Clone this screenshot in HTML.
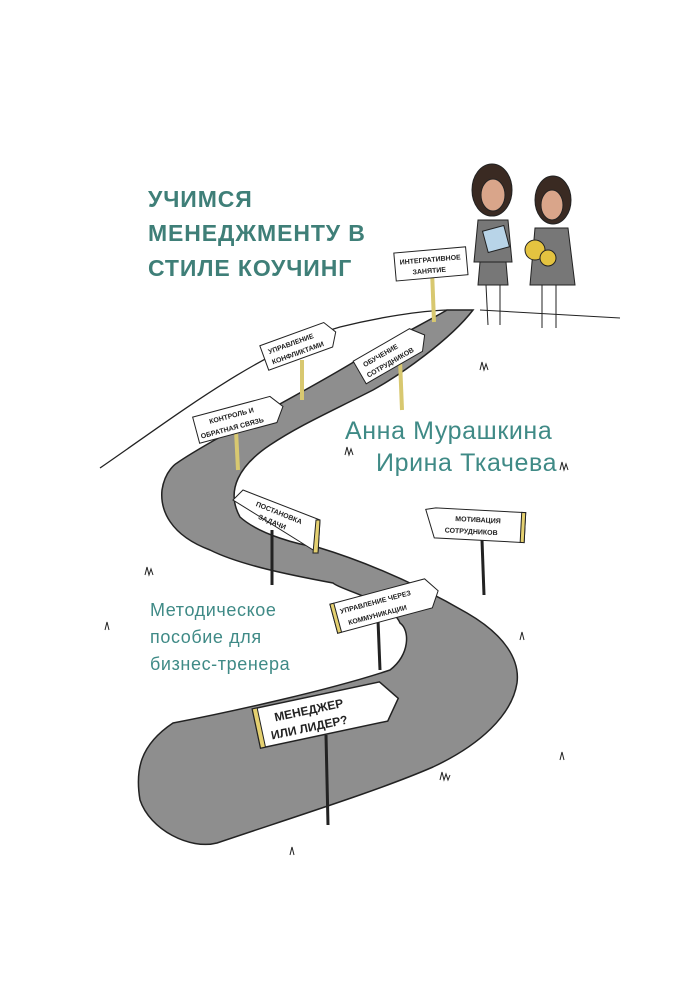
<!DOCTYPE html>
<html><head><meta charset="utf-8"><style>
html,body{margin:0;padding:0;background:#fff}
#c{position:relative;width:693px;height:1000px;overflow:hidden;background:#fff;font-family:"Liberation Sans","DejaVu Sans",sans-serif}
.t{position:absolute;left:148px;color:#3f7f78;font-weight:bold;font-size:23px;white-space:nowrap;letter-spacing:0.9px}
.a{position:absolute;color:#3f8a86;font-size:25px;white-space:nowrap;letter-spacing:0.6px}
.s{position:absolute;left:150px;color:#3f8a86;font-size:18px;white-space:nowrap;letter-spacing:0.6px}
</style></head><body><div id="c">
<svg width="693" height="1000" style="position:absolute;left:0;top:0">
<path d="M100,468 C170,420 260,350 340,327 C380,317 420,311 447,310" fill="none" stroke="#222" stroke-width="1.3"/>
<path d="M480,310 L620,318" fill="none" stroke="#222" stroke-width="1"/>
<path d="M447,310 L473,310 C450,340 400,375 373,390 C330,412 300,425 270,445 C240,465 225,490 240,517 C260,535 300,545 317,547 C360,560 410,580 467,613 C505,635 520,660 517,683 C512,715 480,745 433,767 C380,790 300,815 217,843 C190,850 150,830 140,800 C135,770 140,745 173,723 C230,712 330,690 390,670 C410,655 410,630 400,623 C390,600 340,590 333,583 C290,575 240,565 210,550 C170,535 160,510 162,490 C165,470 177,463 177,463 C210,440 300,395 357,360 C400,335 430,320 447,310 Z" fill="#8e8e8e" stroke="#222" stroke-width="1.5"/>
<g stroke="#222" stroke-width="1" fill="#fff" font-family="Liberation Sans,sans-serif" font-size="7" font-weight="bold">
<line x1="432" y1="270" x2="434" y2="322" stroke="#d8c870" stroke-width="4"/>
<g transform="rotate(-5 430 265)"><rect x="395" y="250" width="72" height="28"/><text x="400" y="262" stroke="none" fill="#222">ИНТЕГРАТИВНОЕ</text><text x="412" y="273" stroke="none" fill="#222">ЗАНЯТИЕ</text></g>
<line x1="302" y1="360" x2="302" y2="400" stroke="#d8c870" stroke-width="4"/>
<g transform="rotate(-20 300 345)"><path d="M262,332 L330,332 L338,345 L330,358 L262,358 Z"/><text x="268" y="343" stroke="none" fill="#222">УПРАВЛЕНИЕ</text><text x="268" y="354" stroke="none" fill="#222">КОНФЛИКТАМИ</text></g>
<line x1="400" y1="360" x2="402" y2="410" stroke="#d8c870" stroke-width="4"/>
<g transform="rotate(-30 390 355)"><path d="M355,342 L420,342 L430,355 L420,368 L355,368 Z"/><text x="362" y="353" stroke="none" fill="#222">ОБУЧЕНИЕ</text><text x="360" y="364" stroke="none" fill="#222">СОТРУДНИКОВ</text></g>
<line x1="236" y1="430" x2="238" y2="470" stroke="#d8c870" stroke-width="4"/>
<g transform="rotate(-15 240 420)"><path d="M195,405 L275,405 L285,418 L275,432 L195,432 Z"/><text x="210" y="416" stroke="none" fill="#222">КОНТРОЛЬ И</text><text x="198" y="428" stroke="none" fill="#222">ОБРАТНАЯ СВЯЗЬ</text></g>
<line x1="272" y1="530" x2="272" y2="585" stroke="#222" stroke-width="3"/>
<path d="M233,500 L243,490 L320,520 L318,553 Z" fill="#fff"/><path d="M316,520 L320,520 L318,553 L313,553 Z" fill="#e4d070"/>
<text x="253" y="512" stroke="none" fill="#222" transform="rotate(22 270 515)">ПОСТАНОВКА</text><text x="260" y="523" stroke="none" fill="#222" transform="rotate(22 270 515)">ЗАДАЧИ</text>
<line x1="482" y1="540" x2="484" y2="595" stroke="#222" stroke-width="3"/>
<g transform="rotate(3 475 525)"><path d="M425,512 L435,510 L525,510 L525,540 L435,540 Z"/><rect x="521" y="510" width="4" height="30" fill="#e4d070"/><text x="455" y="522" stroke="none" fill="#222">МОТИВАЦИЯ</text><text x="445" y="534" stroke="none" fill="#222">СОТРУДНИКОВ</text></g>
<line x1="378" y1="620" x2="380" y2="670" stroke="#222" stroke-width="3"/>
<g transform="rotate(-15 385 605)"><path d="M332,590 L430,590 L440,605 L430,620 L332,620 Z"/><rect x="332" y="590" width="4" height="30" fill="#e4d070"/><text x="340" y="602" stroke="none" fill="#222">УПРАВЛЕНИЕ ЧЕРЕЗ</text><text x="345" y="615" stroke="none" fill="#222">КОММУНИКАЦИИ</text></g>
<line x1="326" y1="735" x2="328" y2="825" stroke="#222" stroke-width="3"/>
<g transform="rotate(-12 320 715)"><path d="M255,695 L385,695 L400,715 L385,735 L255,735 Z" stroke-width="1.5"/><rect x="255" y="695" width="5" height="40" fill="#e4d070"/><text x="275" y="712" stroke="none" fill="#222" font-size="12">МЕНЕДЖЕР</text><text x="268" y="729" stroke="none" fill="#222" font-size="12">ИЛИ ЛИДЕР?</text></g>
</g>
<g stroke="#222" stroke-width="1" fill="#fff">
<ellipse cx="492" cy="190" rx="20" ry="26" fill="#3a2a22"/><ellipse cx="493" cy="195" rx="12" ry="16" fill="#d9a58a"/>
<path d="M478,220 L508,220 L512,262 L474,262 Z" fill="#777"/>
<path d="M480,262 L506,262 L508,285 L478,285 Z" fill="#777"/>
<line x1="486" y1="285" x2="488" y2="325"/><line x1="500" y1="285" x2="500" y2="325"/>
<rect x="485" y="228" width="22" height="22" fill="#b8d4e8" transform="rotate(-15 496 239)"/>
<ellipse cx="553" cy="200" rx="18" ry="24" fill="#3a2a22"/><ellipse cx="552" cy="205" rx="11" ry="15" fill="#d9a58a"/>
<path d="M535,228 L568,228 L575,285 L530,285 Z" fill="#777"/>
<line x1="542" y1="285" x2="542" y2="328"/><line x1="556" y1="285" x2="556" y2="328"/>
<circle cx="535" cy="250" r="10" fill="#e4c340"/><circle cx="548" cy="258" r="8" fill="#e4c340"/>
</g>
<g stroke="#222" stroke-width="1" fill="none">
<path d="M145,575 l2,-8 l2,8 l2,-6 l2,6"/><path d="M480,370 l2,-8 l2,8 l2,-6 l2,6"/>
<path d="M345,455 l2,-8 l2,8 l2,-6 l2,6"/><path d="M560,470 l2,-8 l2,8 l2,-6 l2,6"/>
<path d="M520,640 l2,-8 l2,8"/><path d="M440,780 l2,-8 l2,8 l2,-6 l2,6 l2,-5"/>
<path d="M560,760 l2,-8 l2,8"/><path d="M290,855 l2,-8 l2,8"/><path d="M105,630 l2,-8 l2,8"/>
</g>
</svg>
<div class="t" style="top:186px">УЧИМСЯ</div>
<div class="t" style="top:220px">МЕНЕДЖМЕНТУ В</div>
<div class="t" style="top:255px">СТИЛЕ КОУЧИНГ</div>
<div class="a" style="left:345px;top:417px">Анна Мурашкина</div>
<div class="a" style="left:376px;top:449px">Ирина Ткачева</div>
<div class="s" style="top:600px">Методическое</div>
<div class="s" style="top:627px">пособие для</div>
<div class="s" style="top:654px">бизнес-тренера</div>
</div></body></html>
